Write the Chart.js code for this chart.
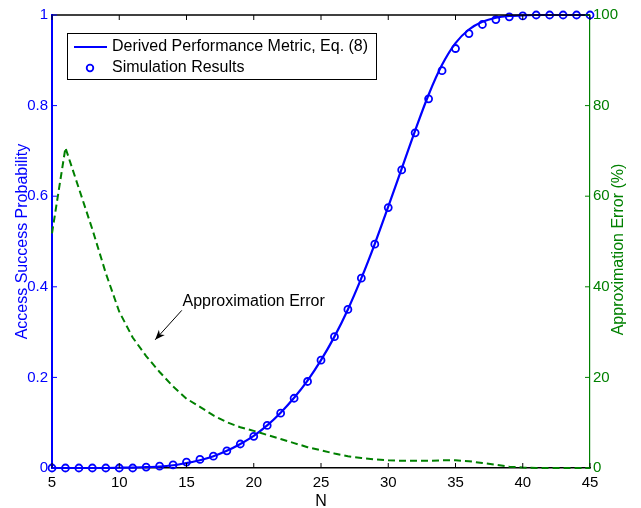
<!DOCTYPE html>
<html lang="en">
<head>
<meta charset="UTF-8">
<title>Access Success Probability vs N</title>
<script src="https://cdn.jsdelivr.net/npm/chart.js@4.4.1/dist/chart.umd.min.js"></script>
<style>
  body { margin: 0; background: #fff; }
  #wrap { width: 641px; height: 508px; }
</style>
</head>
<body>
<div id="wrap"><canvas id="chart" width="641" height="508"></canvas></div>
<script>
// number of devices N
const nValues = [5, 6, 7, 8, 9, 10, 11, 12, 13, 14, 15, 16, 17, 18, 19, 20, 21, 22, 23, 24, 25,
                 26, 27, 28, 29, 30, 31, 32, 33, 34, 35, 36, 37, 38, 39, 40, 41, 42, 43, 44, 45];

// Derived Performance Metric, Eq. (8)
const derivedMetric = [0, 0, 0, 0, 0, 0.0005, 0.001, 0.002, 0.003, 0.006, 0.011, 0.017, 0.026, 0.038,
                       0.053, 0.071, 0.094, 0.122, 0.155, 0.193, 0.238, 0.290, 0.350, 0.419, 0.495,
                       0.577, 0.661, 0.745, 0.824, 0.890, 0.938, 0.968, 0.985, 0.994, 0.998, 0.999,
                       1, 1, 1, 1, 1];

// Simulation Results
const simResults = [0, 0, 0, 0, 0, 0, 0, 0.002, 0.004, 0.007, 0.013, 0.019, 0.026, 0.038,
                    0.053, 0.070, 0.094, 0.121, 0.154, 0.191, 0.238, 0.290, 0.350, 0.419, 0.494,
                    0.575, 0.658, 0.740, 0.815, 0.877, 0.926, 0.959, 0.979, 0.990, 0.996, 0.998,
                    1, 1, 1, 1, 1];

// Approximation Error (%)
const approxError = [51.8, 70.7, 61.7, 52.7, 43.0, 34.5, 28.8, 24.7, 21.2, 18.0, 15.3, 13.5, 11.6, 10.1,
                     9.0, 8.2, 7.3, 6.4, 5.5, 4.6, 3.9, 3.2, 2.6, 2.2, 1.9, 1.7, 1.6, 1.6, 1.6,
                     1.7, 1.7, 1.5, 1.1, 0.7, 0.3, 0.1, 0, 0, 0, 0, 0];

const xTicks = [5, 10, 15, 20, 25, 30, 35, 40, 45];
const yTicks = [0, 0.2, 0.4, 0.6, 0.8, 1];
const y2Ticks = [0, 20, 40, 60, 80, 100];

const BLUE = 'rgb(0,0,255)';
const GREEN = 'rgb(0,128,0)';
const FONT = "'Liberation Sans', Arial, Helvetica, sans-serif";

Chart.defaults.font.family = FONT;
Chart.defaults.font.size = 15;

function line(ctx, x1, y1, x2, y2) {
    ctx.beginPath();
    ctx.moveTo(x1, y1);
    ctx.lineTo(x2, y2);
    ctx.stroke();
}

// top border, inward ticks, right title, annotation and legend box
const framePlugin = {
    id: 'frame',
    afterDatasetsDraw(chart) {
        const { ctx, chartArea: a, scales } = chart;
        const len = 5;
        ctx.save();

        ctx.strokeStyle = '#000';
        ctx.lineWidth = 1.5;
        line(ctx, a.left, a.top, a.right, a.top);
        ctx.lineWidth = 1;
        scales.x.ticks.forEach(t => {
            const px = scales.x.getPixelForValue(t.value);
            line(ctx, px, a.bottom, px, a.bottom - len);
            line(ctx, px, a.top, px, a.top + len);
        });
        ctx.strokeStyle = BLUE;
        scales.y.ticks.forEach(t => {
            const py = scales.y.getPixelForValue(t.value);
            line(ctx, a.left, py, a.left + len, py);
        });
        ctx.strokeStyle = GREEN;
        scales.y2.ticks.forEach(t => {
            const py = scales.y2.getPixelForValue(t.value);
            line(ctx, a.right - len, py, a.right, py);
        });

        // right axis title, reading bottom to top
        ctx.save();
        ctx.translate(a.right + 29, (a.top + a.bottom) / 2 + 8);
        ctx.rotate(-Math.PI / 2);
        ctx.fillStyle = GREEN;
        ctx.font = '16px ' + FONT;
        ctx.textAlign = 'center';
        ctx.textBaseline = 'middle';
        ctx.fillText('Approximation Error (%)', 0, 0);
        ctx.restore();

        // annotation
        const xs = scales.x, ys = scales.y2;
        const tx = xs.getPixelForValue(14.65), ty = ys.getPixelForValue(34.8);
        const hx = xs.getPixelForValue(12.67), hy = ys.getPixelForValue(28.3);
        ctx.strokeStyle = '#000';
        ctx.fillStyle = '#000';
        ctx.lineWidth = 1;
        line(ctx, tx, ty, hx, hy);
        const ang = Math.atan2(hy - ty, hx - tx);
        ctx.beginPath();
        ctx.moveTo(hx, hy);
        ctx.lineTo(hx - 10 * Math.cos(ang) + 4 * Math.sin(ang), hy - 10 * Math.sin(ang) - 4 * Math.cos(ang));
        ctx.lineTo(hx - 7 * Math.cos(ang), hy - 7 * Math.sin(ang));
        ctx.lineTo(hx - 10 * Math.cos(ang) - 4 * Math.sin(ang), hy - 10 * Math.sin(ang) + 4 * Math.cos(ang));
        ctx.closePath();
        ctx.fill();
        ctx.font = '16px ' + FONT;
        ctx.textAlign = 'left';
        ctx.textBaseline = 'middle';
        ctx.fillText('Approximation Error', xs.getPixelForValue(14.7), ys.getPixelForValue(36.7));

        // legend
        const lx = a.left + 15, ly = a.top + 18, lw = 309, lh = 46;
        ctx.fillStyle = '#fff';
        ctx.fillRect(lx, ly, lw, lh);
        ctx.strokeStyle = '#000';
        ctx.lineWidth = 1;
        ctx.strokeRect(lx + 0.5, ly + 0.5, lw, lh);
        const sets = chart.data.datasets;
        const r1 = ly + 14, r2 = ly + 35;
        ctx.strokeStyle = BLUE;
        ctx.lineWidth = 2;
        line(ctx, lx + 7, r1, lx + 40, r1);
        ctx.lineWidth = 1.8;
        ctx.beginPath();
        ctx.arc(lx + 23, r2, 3.3, 0, Math.PI * 2);
        ctx.stroke();
        ctx.fillStyle = '#000';
        ctx.font = '16px ' + FONT;
        ctx.fillText(sets[2].label, lx + 45, r1);
        ctx.fillText(sets[1].label, lx + 45, r2);

        ctx.restore();
    }
};

new Chart(document.getElementById('chart'), {
    type: 'line',
    data: {
        datasets: [
            {
                label: 'Approximation Error',
                data: nValues.map((n, i) => ({ x: n, y: approxError[i] })),
                yAxisID: 'y2',
                borderColor: GREEN,
                borderWidth: 2,
                borderDash: [7, 4],
                pointRadius: 0,
                tension: 0,
                clip: 6
            },
            {
                label: 'Simulation Results',
                data: nValues.map((n, i) => ({ x: n, y: simResults[i] })),
                yAxisID: 'y',
                showLine: false,
                pointStyle: 'circle',
                pointRadius: 3.5,
                pointBorderWidth: 1.8,
                pointBorderColor: BLUE,
                pointBackgroundColor: 'rgba(0,0,0,0)',
                clip: 8
            },
            {
                label: 'Derived Performance Metric, Eq. (8)',
                data: nValues.map((n, i) => ({ x: n, y: derivedMetric[i] })),
                yAxisID: 'y',
                borderColor: BLUE,
                borderWidth: 2.2,
                pointRadius: 0,
                cubicInterpolationMode: 'monotone',
                clip: 6
            }
        ]
    },
    options: {
        responsive: false,
        animation: false,
        layout: { padding: { top: 15, left: 0, right: 0, bottom: 0 } },
        plugins: {
            legend: { display: false },
            tooltip: { enabled: false }
        },
        scales: {
            x: {
                type: 'linear',
                min: 5,
                max: 45,
                afterBuildTicks: s => { s.ticks = xTicks.map(v => ({ value: v })); },
                afterFit: s => { s.height = 40; },
                ticks: { color: '#000', padding: 6, maxRotation: 0 },
                grid: { display: false, drawTicks: false },
                border: { color: '#000', width: 1.5 },
                title: { display: true, text: 'N', color: '#000', font: { size: 16 }, padding: { top: 0, bottom: -3 } }
            },
            y: {
                position: 'left',
                min: 0,
                max: 1,
                afterBuildTicks: s => { s.ticks = yTicks.map(v => ({ value: v })); },
                afterFit: s => { s.width = 52; },
                ticks: { color: BLUE, padding: 4, callback: v => String(Math.round(v * 10) / 10) },
                grid: { display: false, drawTicks: false },
                border: { color: BLUE, width: 2 },
                title: { display: true, text: 'Access Success Probability', color: BLUE, font: { size: 16 }, padding: { top: 13, bottom: 0 } }
            },
            y2: {
                position: 'right',
                min: 0,
                max: 100,
                afterBuildTicks: s => { s.ticks = y2Ticks.map(v => ({ value: v })); },
                afterFit: s => { s.width = 51; },
                ticks: { color: GREEN, padding: 3 },
                grid: { display: false, drawTicks: false },
                border: { color: GREEN, width: 1.2 },
                title: { display: false }
            }
        }
    },
    plugins: [framePlugin]
});
</script>
</body>
</html>
